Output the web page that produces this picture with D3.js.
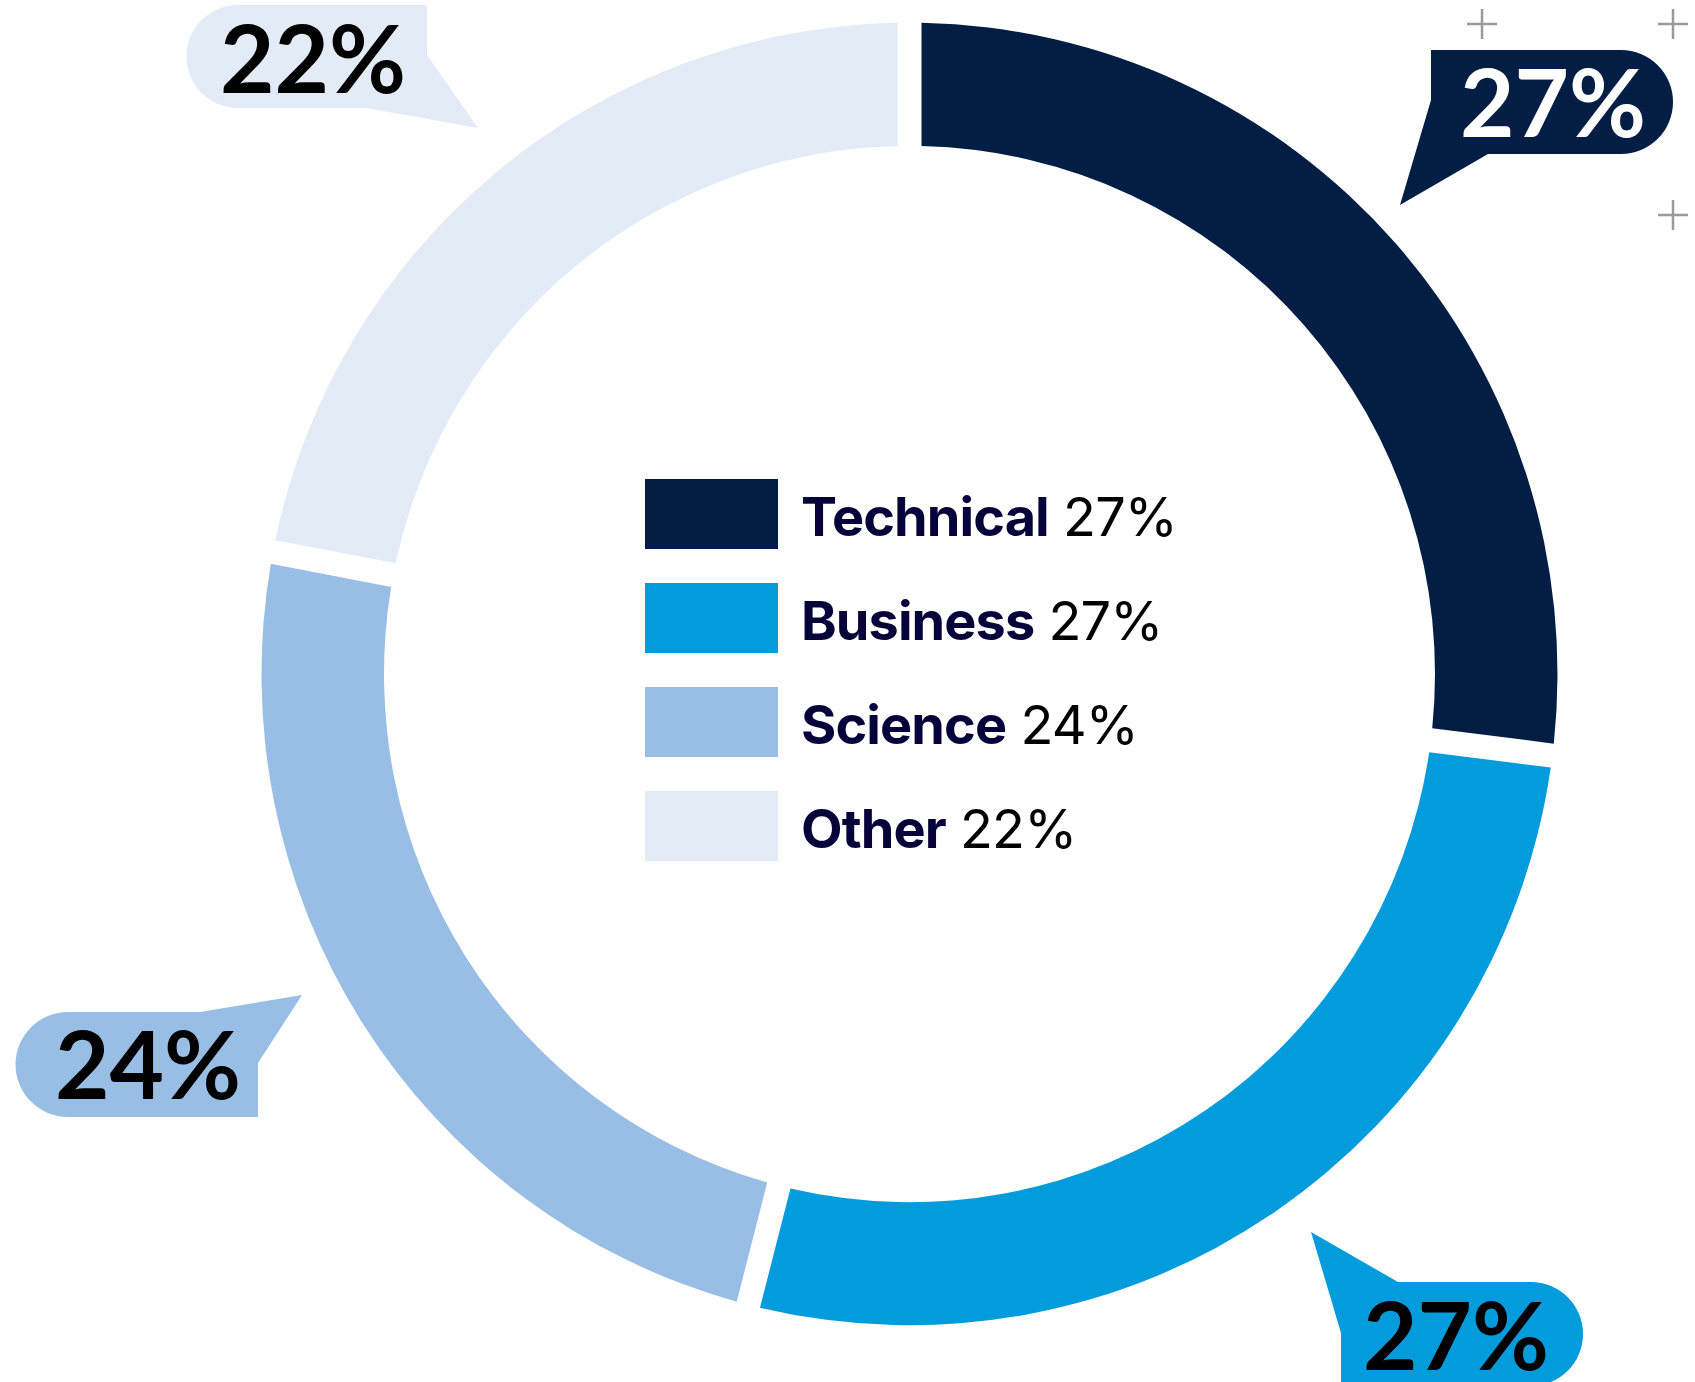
<!DOCTYPE html>
<html lang="en">
<head>
    <meta charset="UTF-8">
    <title>Share by category</title>
    <script src="https://d3js.org/d3.v7.min.js"></script>
    <style>
        html, body { margin: 0; padding: 0; background: #fff; }
        svg { display: block; }
        text { font-family: Lato, "Open Sans", sans-serif; }
        .legend text { font-family: Inter, Lato, sans-serif; letter-spacing: -0.9px; }
    </style>
</head>
<body>
    <div id="chart"></div>

    <script>
        const width = 1695;
        const height = 1382;

        // data
        const categories = ["Technical", "Business", "Science", "Other"];
        const shares = [27, 27, 24, 22];
        const colors = ["#021e44", "#029cdc", "#99bee6", "#e3ebf7"];
        const labelColors = ["#ffffff", "#000000", "#000000", "#000000"];

        // ring geometry
        const cx = 909.5, cy = 674;
        const outerR = 648, innerR = 525.5;
        const gap = 24;

        const svg = d3.select("#chart")
                      .append("svg")
                      .attr("width", width)
                      .attr("height", height);

        const pie = d3.pie().sort(null).value(d => d.value);
        const arcs = pie(categories.map((c, i) => ({ name: c, value: shares[i], color: colors[i] })));

        const arc = d3.arc()
                      .innerRadius(innerR)
                      .outerRadius(outerR)
                      .padRadius(outerR)
                      .padAngle(gap / outerR);

        // the ring is a touch taller than it is wide in the original
        svg.append("g")
           .attr("transform", `translate(${cx},${cy}) scale(1,1.005)`)
           .selectAll("path")
           .data(arcs)
           .enter()
           .append("path")
           .attr("d", arc)
           .attr("fill", d => d.data.color);

        // callout bubbles (one per slice, same order as categories)
        const bubbles = [
            { path: "M1431,50 H1621 A52,52 0 0 1 1621,154 H1488 L1400,205 L1431,100 Z", tx: 1460, ty: 137 },
            { path: "M1398,1282 H1531 A52,52 0 0 1 1531,1386 H1341 V1333 L1311,1232 Z", tx: 1363, ty: 1370 },
            { path: "M68,1012 H200 L302,995 L258,1063 V1117 H68 A52.5,52.5 0 0 1 68,1012 Z", tx: 55, ty: 1099 },
            { path: "M238,5 H427 V55 L478,128 L367,108 H238 A51.5,51.5 0 0 1 238,5 Z", tx: 220, ty: 93 }
        ];

        const callouts = svg.append("g")
                            .selectAll("g")
                            .data(arcs)
                            .enter()
                            .append("g");

        callouts.append("path")
                .attr("d", (d, i) => bubbles[i].path)
                .attr("fill", d => d.data.color);

        callouts.append("text")
                .attr("x", (d, i) => bubbles[i].tx)
                .attr("y", (d, i) => bubbles[i].ty)
                .attr("font-size", 94)
                .attr("font-weight", 700)
                .attr("fill", (d, i) => labelColors[i])
                .text(d => d.data.value + "%");

        // little crosses in the top right corner
        const crosses = [[1482, 24], [1673, 24], [1673, 215]];
        svg.append("g")
           .selectAll("path")
           .data(crosses)
           .enter()
           .append("path")
           .attr("d", d => `M${d[0] - 15},${d[1]} H${d[0] + 15} M${d[0]},${d[1] - 15} V${d[1] + 15}`)
           .attr("stroke", "#9a9a9a")
           .attr("stroke-width", 2.5)
           .attr("fill", "none");

        // legend in the hole
        const legendX = 645, legendY = 479, rowStep = 104;
        const legend = svg.append("g")
                          .attr("class", "legend")
                          .selectAll("g")
                          .data(arcs)
                          .enter()
                          .append("g")
                          .attr("transform", (d, i) => `translate(${legendX},${legendY + i * rowStep})`);

        legend.append("rect")
              .attr("width", 133)
              .attr("height", 70)
              .attr("fill", d => d.data.color);

        const lt = legend.append("text")
                         .attr("x", 156)
                         .attr("y", 57)
                         .attr("font-size", 54);

        lt.append("tspan")
          .attr("font-weight", 700)
          .attr("fill", "#07033a")
          .text(d => d.data.name);

        lt.append("tspan")
          .attr("font-weight", 400)
          .attr("fill", "#000")
          .text(d => " " + d.data.value + "%");
    </script>
</body>
</html>
